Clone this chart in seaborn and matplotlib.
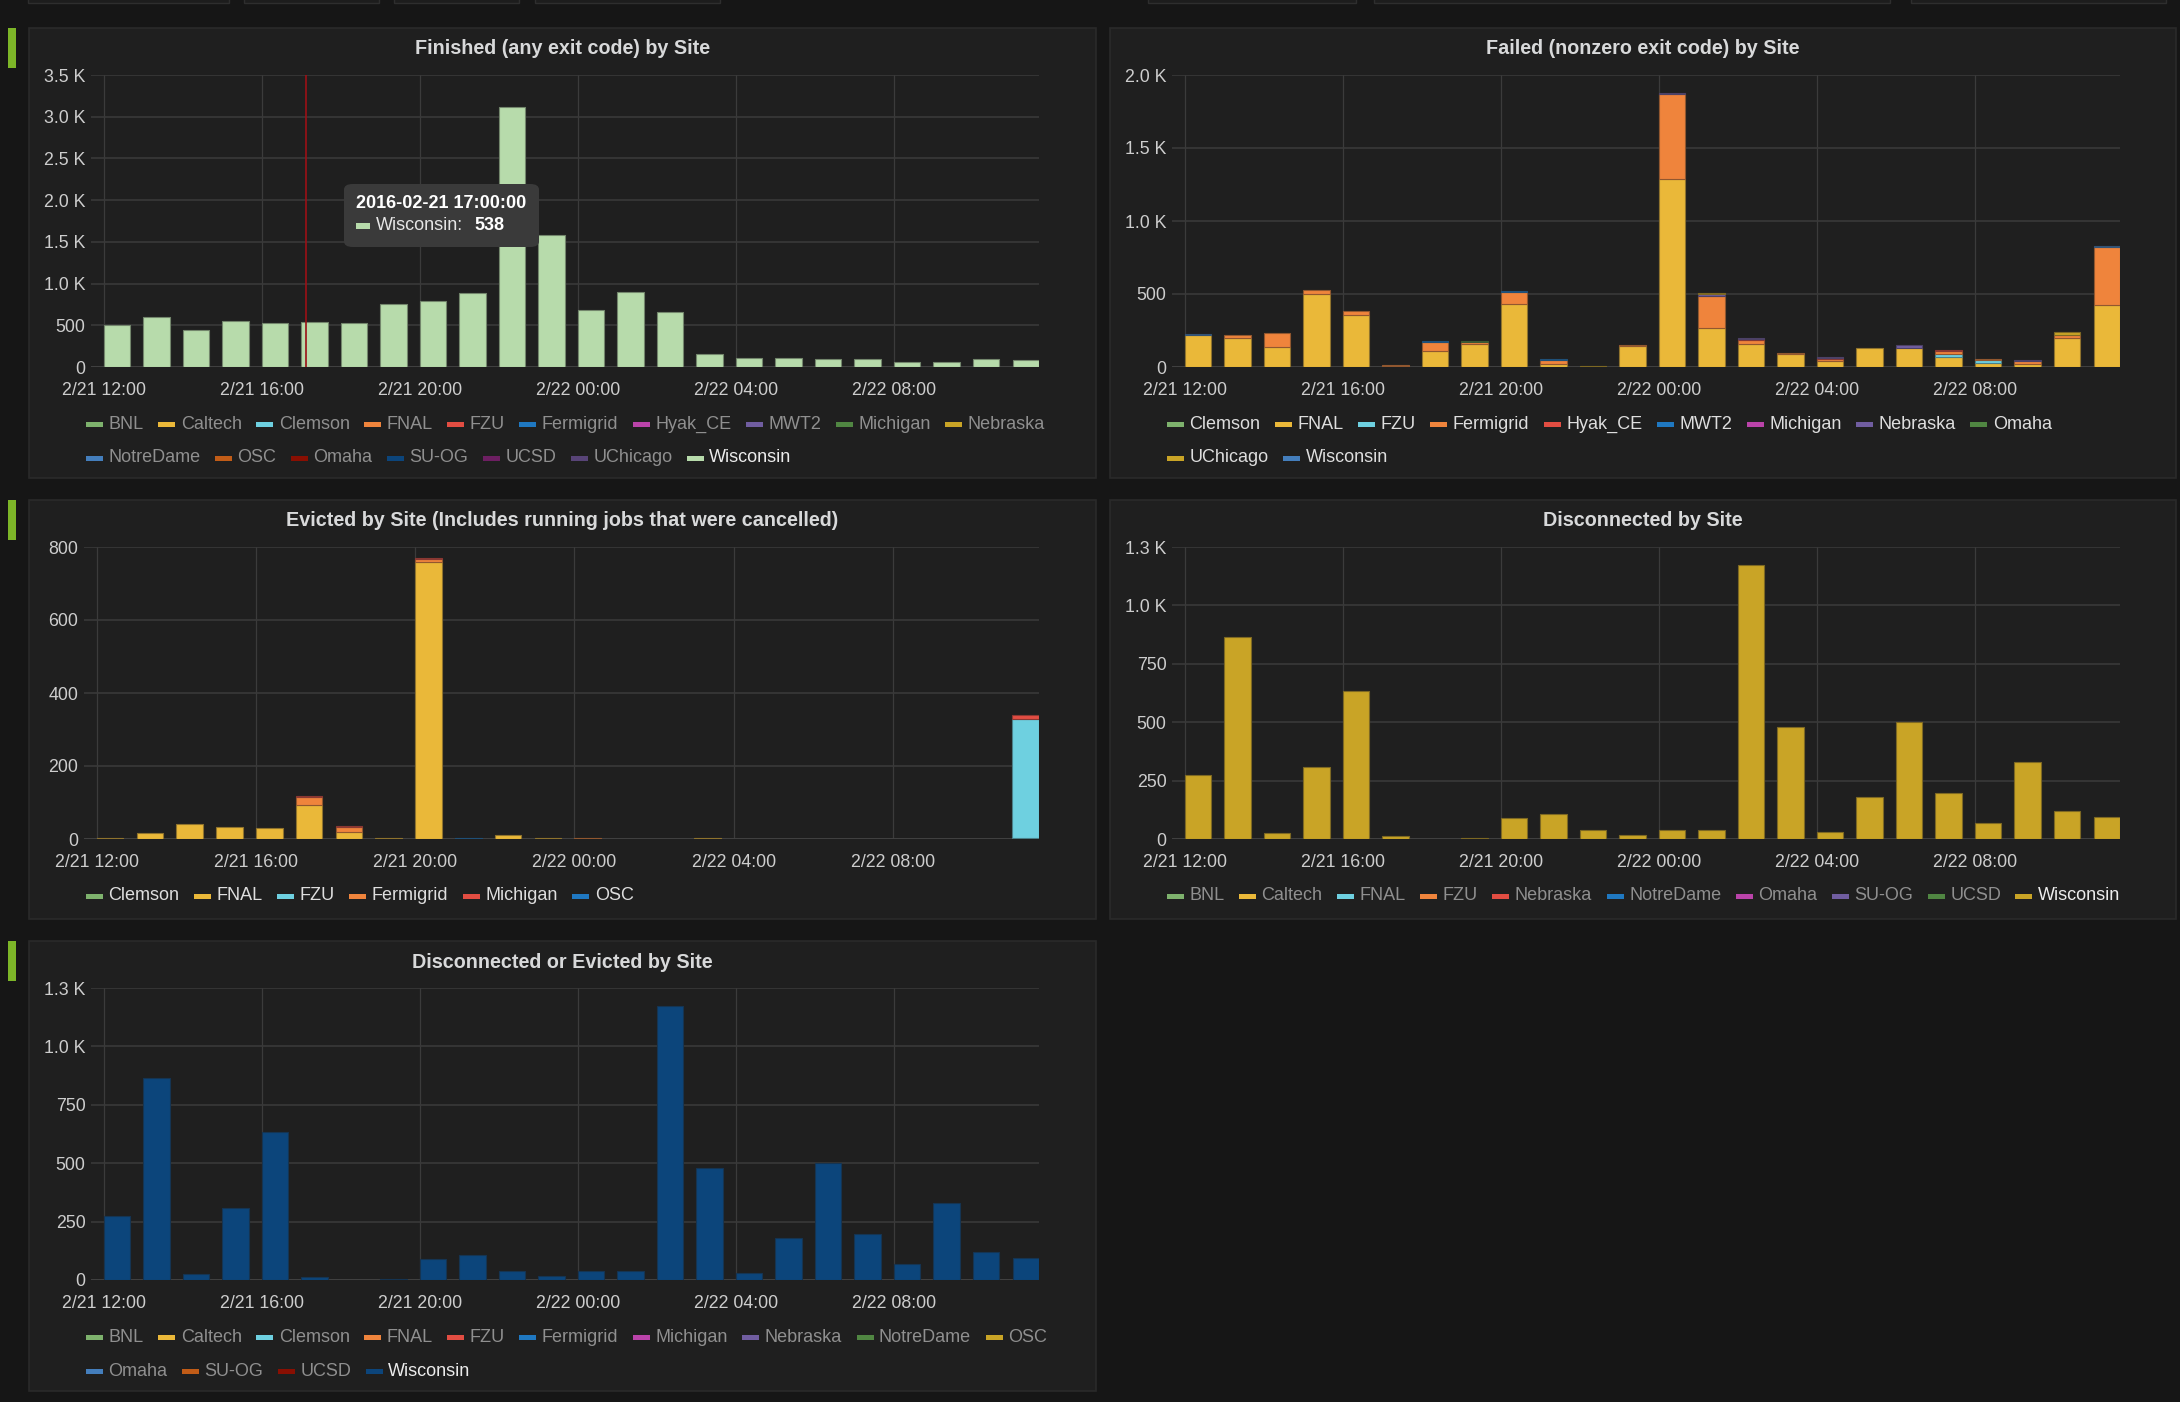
import math
import numpy as np
import pandas as pd
import matplotlib
matplotlib.use("Agg")
import matplotlib.pyplot as plt
import matplotlib.colors as mcolors
from matplotlib.patches import Rectangle, FancyBboxPatch
import seaborn as sns

# ---------------------------------------------------------------- data
# hourly buckets, hour offset from 2016-02-21 12:00
hours = list(range(24))
time_tick_hours = [0, 4, 8, 12, 16, 20]
time_tick_labels = ["2/21 12:00", "2/21 16:00", "2/21 20:00",
                    "2/22 00:00", "2/22 04:00", "2/22 08:00"]

# Panel 1: Finished (any exit code) by Site
finished_sites = ["BNL", "Caltech", "Clemson", "FNAL", "FZU", "Fermigrid", "Hyak_CE",
                  "MWT2", "Michigan", "Nebraska", "NotreDame", "OSC", "Omaha", "SU-OG",
                  "UCSD", "UChicago", "Wisconsin"]
finished_wisconsin = [500, 596, 440, 548, 528, 538, 532, 757, 797, 881, 3115, 1581,
                      689, 897, 657, 152, 108, 104, 92, 96, 64, 60, 92, 88]

# Panel 2: Failed (nonzero exit code) by Site
failed_sites = ["Clemson", "FNAL", "FZU", "Fermigrid", "Hyak_CE", "MWT2", "Michigan",
                "Nebraska", "Omaha", "UChicago", "Wisconsin"]
failed_fnal = [220, 196, 135, 503, 359, 9, 112, 155, 430, 18, 0, 142,
               1288, 268, 160, 92, 43, 130, 133, 66, 27, 20, 196, 423]
failed_fzu = [0, 0, 0, 0, 0, 0, 0, 0, 0, 0, 0, 0,
              0, 0, 0, 0, 0, 0, 0, 25, 18, 0, 0, 0]
failed_fermigrid = [0, 20, 98, 23, 25, 7, 60, 16, 85, 32, 0, 11,
                    582, 219, 27, 6, 9, 0, 0, 16, 9, 21, 21, 399]
failed_hyak_ce = [0, 0, 0, 0, 0, 0, 0, 0, 0, 0, 0, 0,
                  0, 0, 7, 0, 9, 0, 0, 9, 0, 0, 0, 0]
failed_mwt2 = [0, 0, 0, 0, 0, 0, 6, 0, 7, 5, 0, 0,
               0, 0, 0, 0, 0, 0, 0, 0, 0, 0, 0, 0]
failed_nebraska = [0, 0, 0, 0, 0, 0, 0, 0, 0, 0, 0, 0,
                   6, 10, 7, 0, 7, 0, 20, 0, 0, 9, 0, 0]
failed_omaha = [0, 0, 0, 0, 0, 0, 0, 7, 0, 0, 0, 0,
                0, 0, 0, 0, 0, 0, 0, 0, 0, 0, 0, 0]
failed_uchicago = [0, 0, 0, 0, 0, 0, 0, 0, 0, 0, 9, 0,
                   0, 8, 0, 0, 0, 0, 0, 0, 0, 0, 21, 0]
failed_wisconsin = [6, 0, 0, 0, 0, 0, 0, 0, 0, 0, 0, 0,
                    0, 0, 0, 0, 0, 0, 0, 0, 0, 0, 0, 4]

# Panel 3: Evicted by Site
evicted_sites = ["Clemson", "FNAL", "FZU", "Fermigrid", "Michigan", "OSC"]
evicted_clemson = [0, 0, 0, 0, 0, 0, 0, 0, 0, 0, 0, 0,
                   0, 0, 0, 0, 0, 0, 0, 0, 0, 0, 0, 3]
evicted_fnal = [4, 16, 40, 34, 31, 92, 18, 3, 760, 0, 10, 3,
                0, 0, 0, 3, 0, 0, 0, 0, 0, 0, 0, 0]
evicted_fzu = [0, 0, 0, 0, 0, 0, 0, 0, 0, 0, 0, 0,
               0, 0, 0, 0, 0, 0, 0, 0, 0, 0, 0, 325]
evicted_fermigrid = [0, 0, 0, 0, 0, 24, 14, 0, 6, 0, 0, 0,
                     3, 0, 0, 0, 0, 0, 0, 0, 0, 0, 0, 0]
evicted_michigan = [0, 0, 0, 0, 0, 3, 3, 0, 3, 0, 0, 0,
                    0, 0, 0, 0, 0, 0, 0, 0, 0, 0, 0, 12]
evicted_osc = [0, 0, 0, 0, 0, 0, 0, 0, 0, 3, 0, 0,
               0, 0, 0, 0, 0, 0, 0, 0, 0, 0, 0, 0]

# Panel 4: Disconnected by Site
disconnected_sites = ["BNL", "Caltech", "FNAL", "FZU", "Nebraska", "NotreDame", "Omaha",
                      "SU-OG", "UCSD", "Wisconsin"]
disconnected_wisconsin = [273, 863, 24, 310, 632, 11, 0, 4, 89, 106, 37, 19,
                          40, 39, 1175, 478, 29, 180, 499, 195, 70, 330, 122, 93]

# Panel 5: Disconnected or Evicted by Site
disc_evicted_sites = ["BNL", "Caltech", "Clemson", "FNAL", "FZU", "Fermigrid", "Michigan",
                      "Nebraska", "NotreDame", "OSC", "Omaha", "SU-OG", "UCSD", "Wisconsin"]
disc_evicted_wisconsin = [273, 863, 24, 310, 632, 11, 0, 4, 89, 106, 37, 19,
                          40, 39, 1175, 478, 29, 180, 499, 195, 70, 330, 122, 93]

# ---------------------------------------------------------------- style
GRAFANA = ["#7EB26D", "#EAB839", "#6ED0E0", "#EF843C", "#E24D42", "#1F78C1", "#BA43A9",
           "#705DA0", "#508642", "#C9A426", "#447EBC", "#C15C17", "#890F02", "#0C457B",
           "#6D1F62", "#584477", "#B7DBAB"]
BG = "#161616"
PANEL = "#1f1f1f"
PANEL_EDGE = "#2a2a2a"
GRID = "#393939"
TICK_COL = "#cdcdcd"
TITLE_COL = "#d8d9da"
W, H = 2180, 1402

sns.set_style("dark")
plt.rcParams["font.family"] = ["Liberation Sans", "DejaVu Sans"]

fig = plt.figure(figsize=(W / 100, H / 100), dpi=100, facecolor=BG)
renderer = fig.canvas.get_renderer()


def fx(x):
    return x / W


def fy(y):
    return 1 - y / H


def frect(x0, y0, x1, y1, **kw):
    r = Rectangle((fx(x0), fy(y1)), (x1 - x0) / W, (y1 - y0) / H,
                  transform=fig.transFigure, **kw)
    fig.add_artist(r)
    return r


def blend(c, bg, a):
    c = np.array(mcolors.to_rgb(c))
    b = np.array(mcolors.to_rgb(bg))
    return tuple(c * a + b * (1 - a))


def kfmt(v):
    if v < 1000:
        return str(int(v))
    return f"{math.floor(v / 100 + 0.5) / 10:.1f} K"


# top dashboard controls (partially visible)
for x0, x1 in [(28, 229), (244, 379), (394, 519), (535, 720),
               (1148, 1356), (1374, 1890), (1911, 2166)]:
    frect(x0, -6, x1, 3, facecolor="#1d1d1d", edgecolor="#2e2e2e", lw=1, zorder=-4)


def draw_panel(box, axbox, title, title_y, sites, series, yticks, legend_rows,
               legend_y, legend_x, grey_legend, marker=False):
    x0, y0, x1, y1 = box
    frect(x0, y0, x1, y1, facecolor=PANEL, edgecolor=PANEL_EDGE, lw=1.2, zorder=-3)
    if marker:
        frect(8, y0, 16, y0 + 40, facecolor="#7DB628", lw=0, zorder=-3)
    fig.text(fx((x0 + x1) / 2), fy(title_y), title, color=TITLE_COL, fontsize=14.2,
             fontweight="bold", ha="center", va="center")

    ax0, ay0, ax1, ay1 = axbox
    ax = fig.add_axes([fx(ax0), fy(ay1), (ax1 - ax0) / W, (ay1 - ay0) / H])
    ax.set_facecolor("none")

    colors = {s: GRAFANA[i] for i, s in enumerate(sites)}
    rows = []
    for s in sites:
        if s in series:
            for h, v in zip(hours, series[s]):
                rows.append((h, v, s))
    df = pd.DataFrame(rows, columns=["hour", "value", "site"])
    used = [s for s in sites if s in series]
    sns.histplot(data=df, x="hour", weights="value", hue="site",
                 hue_order=used[::-1], palette={s: colors[s] for s in used},
                 multiple="stack", binwidth=1, binrange=(-0.165, 23.835), shrink=0.67,
                 alpha=1, linewidth=0, legend=False, ax=ax)
    for p in ax.patches:
        if p.get_height() > 0:
            fc = p.get_facecolor()
            p.set_edgecolor(blend(fc[:3], PANEL, 0.55))
            p.set_linewidth(0.8)
        p.set_zorder(2)

    ax.set_xlim(-0.32, 23.67)
    ax.set_ylim(0, yticks[-1])
    ax.set_xticks(time_tick_hours)
    ax.set_xticklabels(time_tick_labels)
    ax.set_yticks(yticks)
    ax.set_yticklabels([kfmt(v) for v in yticks])
    ax.set_xlabel("")
    ax.set_ylabel("")
    for sp in ax.spines.values():
        sp.set_visible(False)
    ax.set_axisbelow(True)
    ax.grid(axis="y", color=GRID, lw=1.2)
    ax.grid(axis="x", color="#3b3b3b", lw=0.9)
    ax.axhline(0, color="#444444", lw=1.8, zorder=1.5)
    ax.tick_params(axis="x", length=0, colors=TICK_COL, labelsize=12.8, pad=10.5)
    ax.tick_params(axis="y", length=0, colors=TICK_COL, labelsize=12.8, pad=4)

    # legend
    for row, ly in zip(legend_rows, legend_y):
        x = legend_x
        for name in row:
            frect(x, ly - 2.5, x + 17, ly + 2.5, facecolor=colors[name], lw=0)
            if grey_legend and name != "Wisconsin":
                tc = "#8f8f8f"
            else:
                tc = "#ececec" if grey_legend else "#dedede"
            t = fig.text(fx(x + 22.5), fy(ly), name, color=tc, fontsize=13,
                         ha="left", va="center")
            w = t.get_window_extent(renderer).width
            x += 22.5 + w + 14.5
    return ax


ax1 = draw_panel((29, 28, 1096, 478), (91, 75, 1039, 367),
                 "Finished (any exit code) by Site", 48,
                 finished_sites, {"Wisconsin": finished_wisconsin},
                 [0, 500, 1000, 1500, 2000, 2500, 3000, 3500],
                 [finished_sites[:10], finished_sites[10:]], [424, 458], 86, True,
                 marker=True)

ax2 = draw_panel((1110, 28, 2176, 478), (1172, 75, 2120, 367),
                 "Failed (nonzero exit code) by Site", 48,
                 failed_sites,
                 {"FNAL": failed_fnal, "FZU": failed_fzu, "Fermigrid": failed_fermigrid,
                  "Hyak_CE": failed_hyak_ce, "MWT2": failed_mwt2,
                  "Nebraska": failed_nebraska, "Omaha": failed_omaha,
                  "UChicago": failed_uchicago, "Wisconsin": failed_wisconsin},
                 [0, 500, 1000, 1500, 2000],
                 [failed_sites[:9], failed_sites[9:]], [424, 458], 1167, False)

ax3 = draw_panel((29, 500, 1096, 919), (84, 547, 1039, 839),
                 "Evicted by Site (Includes running jobs that were cancelled)", 521,
                 evicted_sites,
                 {"Clemson": evicted_clemson, "FNAL": evicted_fnal, "FZU": evicted_fzu,
                  "Fermigrid": evicted_fermigrid, "Michigan": evicted_michigan,
                  "OSC": evicted_osc},
                 [0, 200, 400, 600, 800],
                 [evicted_sites], [896], 86, False, marker=True)

ax4 = draw_panel((1110, 500, 2176, 919), (1172, 547, 2120, 839),
                 "Disconnected by Site", 521,
                 disconnected_sites, {"Wisconsin": disconnected_wisconsin},
                 [0, 250, 500, 750, 1000, 1250],
                 [disconnected_sites], [896], 1167, True)

ax5 = draw_panel((29, 941, 1096, 1391), (91, 988, 1039, 1280),
                 "Disconnected or Evicted by Site", 963,
                 disc_evicted_sites, {"Wisconsin": disc_evicted_wisconsin},
                 [0, 250, 500, 750, 1000, 1250],
                 [disc_evicted_sites[:10], disc_evicted_sites[10:]], [1337, 1371], 86, True,
                 marker=True)

# hover crosshair + tooltip on the first panel
ax1.axvline(5.13, color="#9b1016", lw=1.2, zorder=6)
tip = FancyBboxPatch((fx(344), fy(247)), 195 / W, 63 / H,
                     boxstyle="round,pad=0,rounding_size=0.004",
                     transform=fig.transFigure, facecolor="#3a3a3a", edgecolor="none",
                     zorder=10)
fig.add_artist(tip)
fig.text(fx(356), fy(203), "2016-02-21 17:00:00", color="white", fontsize=13,
         fontweight="bold", ha="left", va="center", zorder=11)
frect(356, 223.5, 370, 228.5, facecolor="#B7DBAB", lw=0, zorder=11)
fig.text(fx(376), fy(226), "Wisconsin:", color="#e6e6e6", fontsize=13,
         ha="left", va="center", zorder=11)
fig.text(fx(474), fy(226), "538", color="white", fontsize=13, fontweight="bold",
         ha="left", va="center", zorder=11)

fig.savefig("out.png", dpi=100, facecolor=BG)
